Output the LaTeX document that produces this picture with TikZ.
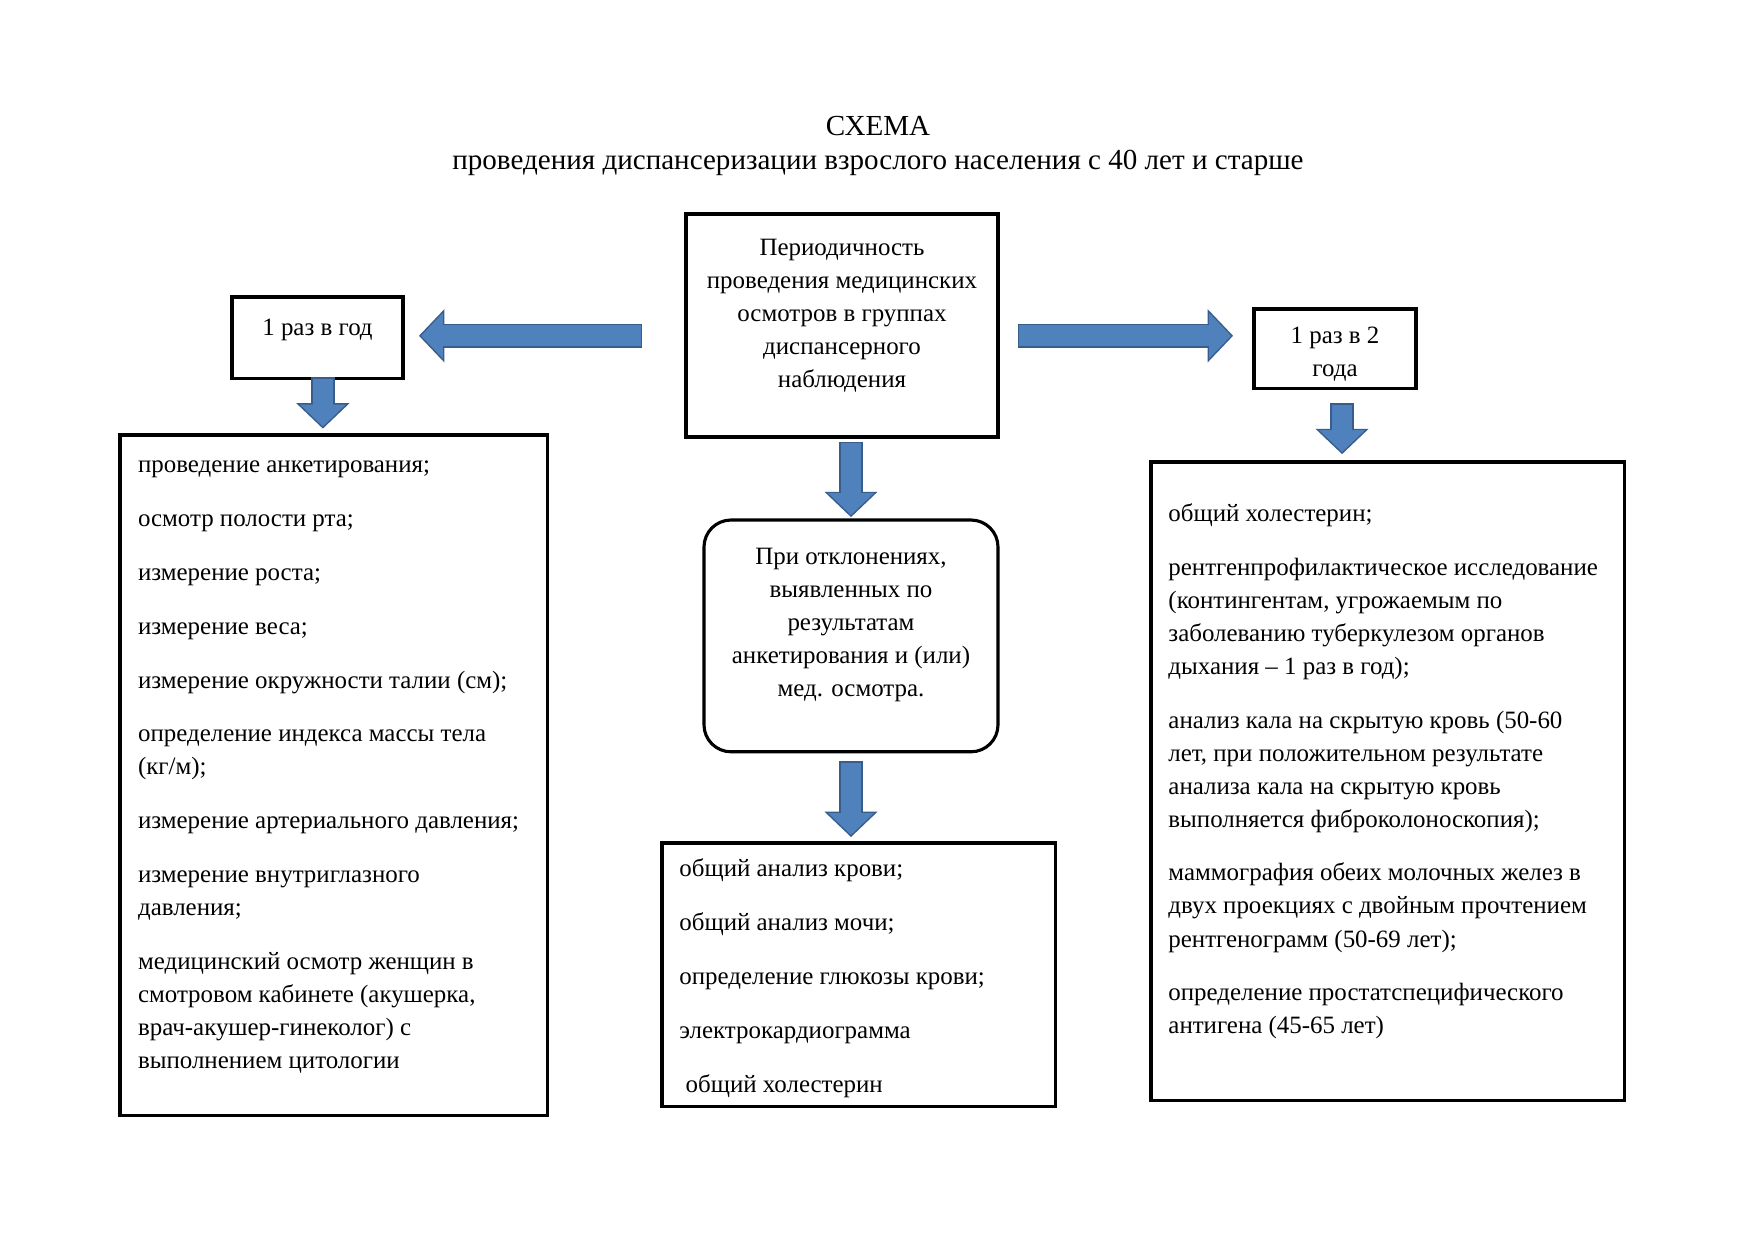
\documentclass[tikz,border=0pt]{standalone}
\usepackage{fontspec}
\setmainfont{Liberation Serif}
\usetikzlibrary{arrows.meta}

\definecolor{arrowblue}{HTML}{4F81BD}
\definecolor{arrowedge}{HTML}{385D8A}

% one pixel of the page
\newlength\pxu
\setlength\pxu{0.16923mm}

% text block of a box: width, height (in px), alignment, text
\newcommand\boxbody[4]{\parbox[c][#2\pxu][t]{#1\pxu}{#3\fontsize{12pt}{15.9pt}\selectfont\strut #4}}

\tikzset{
  box/.style={draw, line width=1.5pt, inner xsep=0pt, outer sep=0pt, anchor=north west},
  fat/.style 2 args={draw=arrowblue, line width=10pt,
    -{Triangle[length=10.5pt, width=22pt, line width=0pt]},
    shorten <=#1, shorten >=#2,
    preaction={draw=arrowedge, line width=11.4pt,
      -{Triangle[length=12.2pt, width=25.6pt, line width=0pt]},
      shorten <=#1-0.7pt, shorten >=#2-1pt}}
}

\begin{document}
\begin{tikzpicture}[x=0.16923mm, y=-0.16923mm]
  \useasboundingbox (0,0) rectangle (1755,1241);

  \node[align=center, font=\fontsize{14pt}{16pt}\selectfont] (title) at (878,146)
    {СХЕМА\\проведения диспансеризации взрослого населения с 40 лет и старше};

  % middle column
  \node[box, inner ysep=8.9pt] (main) at (686,214)
    {\boxbody{312}{186}{\centering}{Периодичность\\проведения медицинских\\осмотров в группах\\диспансерного\\наблюдения}};
  \node[box, rounded corners=13pt, inner ysep=10.3pt] (dev) at (704,520)
    {\boxbody{294}{189}{\centering}{При отклонениях,\\выявленных по\\результатам\\анкетирования и (или)\\мед. осмотра.}};
  \node[box, inner xsep=8.4pt, inner ysep=5.2pt] (tests) at (662,843)
    {\boxbody{359}{242}{\raggedright\setlength{\parskip}{10pt}}{общий анализ крови;\par
      общий анализ мочи;\par
      определение глюкозы крови;\par
      электрокардиограмма\par
      \ общий холестерин}};

  % once a year
  \node[box, inner ysep=7.4pt] (yearA) at (232,297)
    {\boxbody{171}{51}{\centering}{1 раз в год}};
  \node[box, inner xsep=8.7pt, inner ysep=7.1pt] (listA) at (120,435)
    {\boxbody{391}{651}{\raggedright\setlength{\parskip}{10pt}}{проведение анкетирования;\par
      осмотр полости рта;\par
      измерение роста;\par
      измерение веса;\par
      измерение окружности талии (см);\par
      определение индекса массы тела\\(кг/м);\par
      измерение артериального давления;\par
      измерение внутриглазного\\давления;\par
      медицинский осмотр женщин в\\смотровом кабинете (акушерка,\\врач-акушер-гинеколог) с\\выполнением цитологии}};

  % once in two years
  \node[box, inner ysep=5.7pt] (yearB) at (1254,309)
    {\boxbody{162}{56}{\centering}{1 раз в 2\\года}};
  \node[box, inner xsep=8.4pt, inner ysep=17.5pt] (listB) at (1151,462)
    {\boxbody{439}{566}{\raggedright\setlength{\parskip}{10pt}}{общий холестерин;\par
      рентгенпрофилактическое исследование\\(контингентам, угрожаемым по\\заболеванию туберкулезом органов\\дыхания – 1 раз в год);\par
      анализ кала на скрытую кровь (50-60\\лет, при положительном результате\\анализа кала на скрытую кровь\\выполняется фиброколоноскопия);\par
      маммография обеих молочных желез в\\двух проекциях с двойным прочтением\\рентгенограмм (50-69 лет);\par
      определение простатспецифического\\антигена (45-65 лет)}};

  % block arrows
  \draw[fat={21.7pt}{8.7pt}] ([yshift=1pt]main.west |- yearA.east) -- ([yshift=1pt]yearA.east);
  \draw[fat={10.1pt}{11.1pt}] ([yshift=1pt]main.east |- yearA.east) -- ([yshift=1pt]yearA.east -| yearB.west);
  \draw[fat={0pt}{4.1pt}] ([xshift=2.6pt]yearA.south) -- ([xshift=2.6pt]yearA.south |- listA.north);
  \draw[fat={7.7pt}{4.8pt}] ([xshift=3.4pt]yearB.south) -- ([xshift=3.4pt]yearB.south |- listB.north);
  \draw[fat={2.9pt}{2.4pt}] (main.south -| dev.north) -- (dev.north);
  \draw[fat={5.3pt}{3.9pt}] (dev.south) -- (dev.south |- tests.north);
\end{tikzpicture}
\end{document}
